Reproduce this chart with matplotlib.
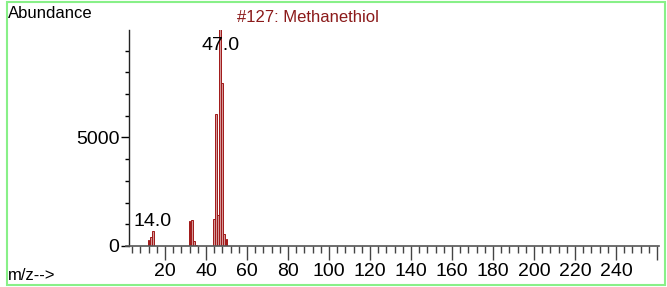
import matplotlib
matplotlib.use("Agg")
import matplotlib.pyplot as plt
from matplotlib.patches import Rectangle
from matplotlib.ticker import MultipleLocator

plt.rcParams["font.family"] = ["Liberation Sans", "DejaVu Sans"]

# 스펙트럼 데이터 (m/z, abundance)
mz = [12, 13, 14, 32, 33, 34, 35, 44, 45, 46, 47, 48, 49, 50]
abundance = [270, 400, 670, 1150, 1190, 230, 50, 1240, 6090, 1450, 9999, 7520, 550, 320]
peak_labels = [(14, "14.0"), (47, "47.0")]
title = "#127: Methanethiol"
x_major = [20, 40, 60, 80, 100, 120, 140, 160, 180, 200, 220, 240, 260]
x_labels = ["20", "40", "60", "80", "100", "120", "140", "160", "180", "200", "220", "240", ""]

W, H = 667, 287
fig = plt.figure(figsize=(W / 100, H / 100), dpi=100)
ax = fig.add_axes([126 / W, (H - 246) / H, (659 - 126) / W, (246 - 30) / H])

bar_red = "#a01818"
ax.bar(mz, abundance, width=0.9, color="#d49a9a", edgecolor=bar_red, linewidth=0.7)

ax.set_xlim(1, 261)
ax.set_ylim(0, 9950)

# 축 스타일
for s in ["top", "right"]:
    ax.spines[s].set_visible(False)
ax.spines["left"].set_position(("data", 2.5))
ax.spines["left"].set_color("#222222")
ax.spines["bottom"].set_color("#555555")
ax.spines["left"].set_linewidth(1)
ax.spines["bottom"].set_linewidth(1.2)

ax.set_xticks(x_major)
ax.set_xticklabels(x_labels, fontsize=14)
ax.xaxis.set_minor_locator(MultipleLocator(4))
ax.tick_params(axis="x", which="major", length=10, width=1, color="#444444", pad=2)
ax.tick_params(axis="x", which="minor", length=5, width=1, color="#444444")

ax.set_yticks([0, 5000])
ax.set_yticklabels(["0", "5000"], fontsize=14)
ax.yaxis.set_minor_locator(MultipleLocator(1000))
ax.tick_params(axis="y", which="major", length=6, width=1, pad=1)
ax.tick_params(axis="y", which="minor", length=3, width=1)

# 피크 라벨
for x, lab in peak_labels:
    h = abundance[mz.index(x)]
    y = 8850 if h > 9000 else h + 60
    ax.text(x, y, lab, fontsize=14, ha="center", va="bottom")

# 텍스트
fig.text(8 / W, 1 - 14 / H, "Abundance", fontsize=12, va="center", ha="left")
fig.text(237 / W, 1 - 17 / H, title, fontsize=12, va="center", ha="left", color="#8b1a1a")
fig.text(8 / W, 1 - 276 / H, "m/z-->", fontsize=12, va="center", ha="left")

# 테두리
fig.patches.append(Rectangle((7 / W, 2 / H), (665 - 7) / W, (285 - 2) / H,
                             transform=fig.transFigure, fill=False,
                             edgecolor="#88f088", linewidth=1.5))

fig.savefig("out.png", dpi=100, facecolor="white")
plt.close(fig)
